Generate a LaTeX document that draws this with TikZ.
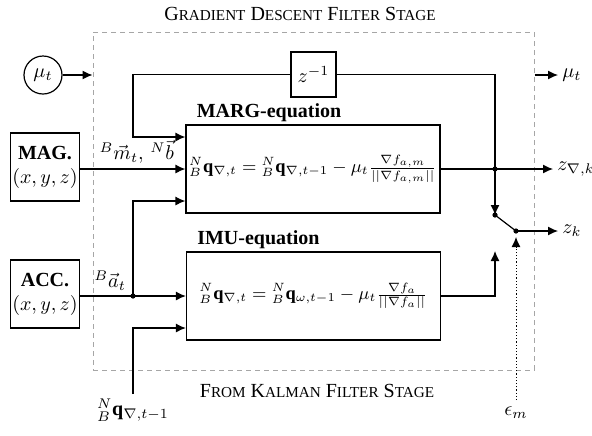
\documentclass[tikz,border=0pt]{standalone}
\usepackage{amsmath,amssymb}
\usepackage{fontspec}
\setmainfont{Liberation Serif}
\usetikzlibrary{arrows.meta,positioning,calc}
\newcommand{\smc}[1]{{\fontsize{7.6}{9}\selectfont #1}}
\tikzset{
  eqblock/.style={draw,line width=0.6pt,minimum width=127pt,minimum height=44pt,inner sep=0.5pt,
                  font=\fontsize{9.2}{11}\selectfont},
  sensor/.style={draw,line width=0.6pt,align=center,minimum size=34pt,inner sep=1pt},
  delay/.style={draw,line width=0.6pt,minimum size=22.5pt,inner sep=1pt},
  src/.style={circle,draw,line width=0.6pt,minimum size=19pt,inner sep=0pt},
  stagebox/.style={draw=gray!70,dash pattern=on 2.5pt off 2pt,line width=0.5pt,
                   minimum width=220.5pt,minimum height=169pt},
  sig/.style={-{Latex[length=5pt,width=4.5pt]},line width=0.6pt},
  wire/.style={line width=0.6pt},
  jdot/.style={circle,fill,inner sep=0pt,minimum size=2.6pt},
  eqlbl/.style={font=\bfseries,anchor=south west,inner sep=1pt,xshift=4.5pt},
  outlbl/.style={anchor=west,inner sep=2pt}
}
\begin{document}
\begin{tikzpicture}[x=0.5pt,y=-0.5pt]
  \useasboundingbox (0,0) rectangle (592,435);
  % filter stage frame and titles
  \node[stagebox] (stage) at (313.5,201) {};
  \node (title) at (300,14) {G\smc{RADIENT} D\smc{ESCENT} F\smc{ILTER} S\smc{TAGE}};
  \node (kalman) at (317,391) {F\smc{ROM} K\smc{ALMAN} F\smc{ILTER} S\smc{TAGE}};
  % blocks
  \node[src] (mu) at (43,75) {$\mu_t$};
  \node[delay] (zd) at (313.5,74.5) {$z^{-1}$};
  \node[eqblock] (marg) at (313,169)
    {$^N_B\mathbf{q}_{\nabla,t} = {}^N_B\mathbf{q}_{\nabla,t-1} - \mu_t\frac{\nabla f_{a,m}}{||\nabla f_{a,m}||}$};
  \node[eqlbl] at (marg.north west) {MARG-equation};
  \node[eqblock] (imu) at (313.5,296)
    {$^N_B\mathbf{q}_{\nabla,t} = {}^N_B\mathbf{q}_{\omega,t-1} - \mu_t\frac{\nabla f_{a}}{||\nabla f_{a}||}$};
  \node[eqlbl] at (imu.north west) {IMU-equation};
  \node[sensor] (mag) at (45,167) {\textbf{MAG.}\\$(x,y,z)$};
  \node[sensor] (acc) at (45,294) {\textbf{ACC.}\\$(x,y,z)$};
  % helper coordinates
  \coordinate (col) at (133,0);
  \coordinate (m1) at ([yshift=16pt]marg.west);
  \coordinate (m3) at ([yshift=-16pt]marg.west);
  \coordinate (i2) at ([yshift=-16pt]imu.west);
  \coordinate (kin) at (133,394);
  \node[jdot] (adot) at (col |- imu.west) {};
  \node[jdot] (jd) at (495,169) {};
  \node[jdot] (sw1) at (495,215) {};
  \node[jdot] (sw2) at (516,231) {};
  \coordinate (swin) at (495,251);
  % labels
  \node[below=-1pt of kin] (qprev) {$^N_B\mathbf{q}_{\nabla,t-1}$};
  \node (eps) at (516,413) {$\epsilon_m$};
  \node[outlbl] (muout) at (558,75) {$\mu_t$};
  \node[outlbl] (znk) at (553,169) {$z_{\nabla,k}$};
  \node[outlbl] (zk) at (558,231) {$z_k$};
  \node[above left=-2pt and -1pt of adot] (alab) {$^B\vec{a}_t$};
  % connectors
  \draw[sig] (mu) -- (mu -| stage.west);
  \draw[sig] (stage.east |- muout) -- (muout.west);
  \draw[sig] (zd.west) -| (col |- m1) -- (m1);
  \draw[sig] (mag.east |- marg.west) -- (marg.west)
    node[midway,above=-1pt,xshift=2pt] {$^B\vec{m}_t,\,{}^N\vec{b}$};
  \draw[sig] (adot.center) -- (col |- m3) -- (m3);
  \draw[sig] (acc.east |- imu.west) -- (imu.west);
  \draw[sig] (kin) |- (i2);
  \draw[wire] (zd.east) -| (jd.center);
  \draw[sig] (marg.east) -- (znk.west);
  \draw[sig] (jd.center) -- (sw1.center);
  \draw[wire] (sw1.center) -- (sw2.center);
  \draw[sig] (sw2.center) -- (zk.west);
  \draw[sig] (imu.east) -| (swin);
  \draw[sig,line width=0.5pt,dash pattern=on 0.6pt off 1pt] (eps.north) -- ([yshift=-1.5pt]sw2.south);
\end{tikzpicture}
\end{document}
